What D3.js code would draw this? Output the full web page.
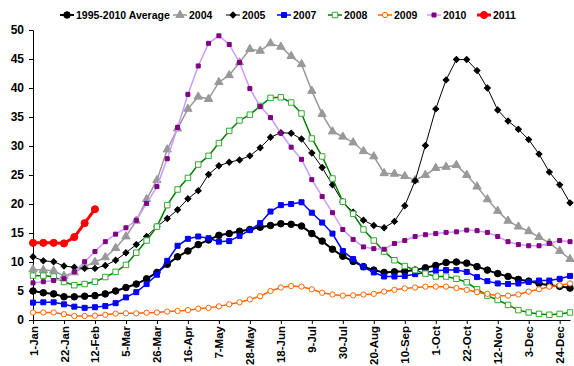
<!DOCTYPE html>
<html>
<head>
<meta charset="utf-8">
<script src="https://cdn.jsdelivr.net/npm/d3@7"></script>
<style>
  body { margin: 0; background: #fff; }
  text { font-family: "Liberation Sans", Arial, sans-serif; font-weight: bold; }
</style>
</head>
<body>
<svg id="chart" width="574" height="366"></svg>
<script>
// weekly values, week 0 = 1-Jan
var tickLabels = ["1-Jan", "22-Jan", "12-Feb", "5-Mar", "26-Mar", "16-Apr", "7-May", "28-May", "18-Jun",
  "9-Jul", "30-Jul", "20-Aug", "10-Sep", "1-Oct", "22-Oct", "12-Nov", "3-Dec", "24-Dec"];

var avg = [5.0, 4.7, 4.5, 4.0, 4.0, 4.1, 4.2, 4.5, 5.0, 5.6, 6.2, 7.1, 8.2, 9.6, 10.9, 11.9, 13.0,
  13.8, 14.6, 14.9, 15.3, 15.6, 16.0, 16.3, 16.6, 16.5, 16.2, 14.9, 13.6, 12.2, 11.0, 10.1, 9.2, 8.6,
  8.2, 8.3, 8.4, 8.6, 9.0, 9.4, 9.9, 10.0, 9.8, 9.2, 8.6, 8.0, 7.5, 7.0, 6.7, 6.3, 6.0, 5.8, 5.5];

var y2004 = [8.7, 8.6, 8.5, 7.6, 8.2, 9.2, 10.0, 10.8, 12.4, 14.4, 17.1, 20.8, 24.1, 29.4, 33.0, 36.4, 38.5,
  38.1, 41.0, 42.2, 44.4, 46.7, 46.4, 47.7, 47.1, 45.5, 44.1, 39.5, 35.5, 32.5, 31.6, 30.6, 29.1, 28.2,
  25.3, 25.2, 24.8, 24.1, 25.0, 26.2, 26.4, 26.7, 25.0, 23.0, 20.8, 18.8, 17.1, 16.1, 15.3, 14.3, 13.3, 11.9, 10.5];

var y2005 = [10.9, 10.2, 10.05, 9.3, 9.1, 8.9, 8.9, 9.4, 10.3, 11.6, 13.0, 14.4, 16.1, 17.5, 19.0, 20.9, 22.3,
  25.1, 26.6, 27.2, 27.6, 28.3, 29.7, 31.5, 32.3, 32.2, 31.2, 28.8, 26.3, 23.3, 20.4, 18.6, 17.2, 16.3,
  15.9, 17.0, 19.7, 24.0, 30.1, 36.4, 41.4, 44.9, 44.9, 43.0, 40.0, 36.2, 34.3, 32.9, 31.1, 28.6, 25.5, 23.3, 20.2];

var y2007 = [3.0, 3.05, 3.05, 2.7, 2.3, 2.1, 2.2, 2.4, 2.9, 3.9, 4.8, 6.2, 7.8, 10.2, 12.8, 14.0, 14.4,
  14.1, 13.5, 13.6, 14.5, 15.5, 16.7, 18.7, 19.8, 20.0, 20.3, 18.5, 16.8, 14.9, 11.9, 10.5, 9.1, 8.2,
  7.5, 7.5, 7.6, 7.9, 8.2, 8.5, 8.6, 8.6, 8.3, 7.4, 6.7, 6.3, 6.2, 6.3, 6.55, 6.8, 6.8, 7.1, 7.6];

var y2008 = [7.65, 7.65, 7.5, 6.55, 6.0, 6.2, 6.6, 7.4, 8.3, 9.5, 11.6, 13.7, 16.1, 19.8, 22.5, 24.5, 26.8,
  28.3, 30.5, 32.6, 34.4, 35.4, 36.9, 38.3, 38.4, 37.5, 35.6, 31.3, 28.2, 24.4, 20.4, 18.3, 15.6, 13.7,
  11.8, 10.3, 9.3, 8.6, 8.0, 7.5, 7.5, 7.1, 6.5, 5.3, 4.2, 3.45, 2.6, 1.7, 1.3, 1.05, 0.9, 1.05, 1.3];

var y2009 = [1.3, 1.3, 1.3, 1.0, 0.7, 0.7, 0.75, 0.9, 1.1, 1.15, 1.15, 1.25, 1.3, 1.45, 1.55, 1.7, 1.95,
  2.1, 2.35, 2.7, 3.05, 3.55, 4.1, 5.0, 5.6, 5.85, 5.75, 5.3, 4.7, 4.4, 4.2, 4.25, 4.4, 4.5,
  4.9, 5.2, 5.45, 5.6, 5.75, 5.75, 5.75, 5.5, 5.2, 4.8, 4.5, 4.2, 4.2, 4.4, 4.9, 5.3, 5.75, 6.0, 6.3];

var y2010 = [6.4, 6.6, 6.8, 7.1, 8.3, 10.05, 11.8, 13.5, 14.8, 15.9, 17.2, 20.1, 23.0, 27.8, 33.2, 38.9, 43.8,
  47.7, 49.0, 47.5, 44.4, 39.9, 36.8, 34.9, 32.2, 29.8, 27.7, 24.2, 21.3, 18.5, 15.6, 13.9, 12.6, 12.3,
  12.2, 13.2, 13.7, 14.4, 14.7, 14.9, 15.1, 15.2, 15.5, 15.4, 15.1, 14.4, 13.5, 13.0, 12.8, 12.8, 13.2, 13.7, 13.5];

var y2011 = [13.3, 13.3, 13.3, 13.2, 14.3, 16.7, 19.1];

var series = [
  { name: "1995-2010 Average", values: avg, line: "#000000", width: 2, symbol: d3.symbolCircle, size: 34, fill: "#000000", stroke: "#000000" },
  { name: "2004", values: y2004, line: "#999999", width: 1.5, symbol: d3.symbolTriangle, size: 30, fill: "#999999", stroke: "#999999" },
  { name: "2005", values: y2005, line: "#000000", width: 1, symbol: d3.symbolSquare, size: 18, rotate: 45, fill: "#000000", stroke: "#000000" },
  { name: "2007", values: y2007, line: "#0000ff", width: 1.5, symbol: d3.symbolSquare, size: 25, fill: "#0000ff", stroke: "#0000ff" },
  { name: "2008", values: y2008, line: "#008000", width: 1.5, symbol: d3.symbolSquare, size: 30, fill: "#ffffff", stroke: "#33aa33" },
  { name: "2009", values: y2009, line: "#ff6600", width: 1.5, symbol: d3.symbolCircle, size: 22, fill: "#ffffff", stroke: "#ff6600" },
  { name: "2010", values: y2010, line: "#cc99ff", width: 1.5, symbol: d3.symbolSquare, size: 16, fill: "#800080", stroke: "#800080" },
  { name: "2011", values: y2011, line: "#ff0000", width: 3, symbol: d3.symbolCircle, size: 40, fill: "#ff0000", stroke: "#ff0000" }
];

// where each legend entry starts
var legendX = [60, 173, 226, 277, 328, 378, 427, 477];

var svg = d3.select("#chart"),
  margin = { top: 30, right: 4, bottom: 46, left: 33 },
  width = +svg.attr("width"),
  height = +svg.attr("height");

var x = d3.scaleLinear().domain([0, 52]).range([margin.left, width - margin.right]);
var y = d3.scaleLinear().domain([0, 50]).range([height - margin.bottom, margin.top]);

// y axis
svg.append("g")
  .attr("transform", "translate(" + margin.left + ",0)")
  .call(d3.axisLeft(y).ticks(10).tickSize(4).tickPadding(5).tickSizeOuter(0))
  .call((g) => g.selectAll("text").style("font-size", "12px").attr("fill", "#000"))
  .call((g) => g.selectAll("line,path").attr("stroke", "#000"));

// x axis, a tick every 3 weeks
var tickWeeks = tickLabels.map((d, i) => i * 3);
svg.append("g")
  .attr("transform", "translate(0," + y(0) + ")")
  .call(d3.axisBottom(x).tickValues(tickWeeks).tickFormat((d, i) => tickLabels[i]).tickSize(4).tickSizeOuter(0))
  .call((g) => g.selectAll("line,path").attr("stroke", "#000"))
  .selectAll("text")
  .style("font-size", "11.5px")
  .attr("fill", "#000")
  .attr("transform", "rotate(-90)")
  .attr("text-anchor", "end")
  .attr("x", -6)
  .attr("y", 0)
  .attr("dy", "0.35em");

var line = d3.line()
  .x((d, i) => x(i))
  .y((d) => y(d));

function marker(sel, s) {
  return sel
    .attr("d", d3.symbol().type(s.symbol).size(s.size))
    .attr("fill", s.fill)
    .attr("stroke", s.stroke)
    .attr("stroke-width", 1);
}

series.forEach(function (s) {
  var g = svg.append("g").attr("class", "series");
  g.append("path")
    .datum(s.values)
    .attr("fill", "none")
    .attr("stroke", s.line)
    .attr("stroke-width", s.width)
    .attr("d", line);
  g.selectAll(".pt")
    .data(s.values)
    .enter()
    .append("path")
    .attr("class", "pt")
    .attr("transform", (d, i) => "translate(" + x(i) + "," + y(d) + ") rotate(" + (s.rotate || 0) + ")")
    .call(marker, s);
});

// legend along the top
var legend = svg.append("g").attr("transform", "translate(0,15)");
series.forEach(function (s, i) {
  var item = legend.append("g").attr("transform", "translate(" + legendX[i] + ",0)");
  item.append("line")
    .attr("x1", 0).attr("x2", 14)
    .attr("stroke", s.line)
    .attr("stroke-width", s.width);
  item.append("path")
    .attr("transform", "translate(7,0) rotate(" + (s.rotate || 0) + ")")
    .call(marker, s);
  item.append("text")
    .attr("x", 16)
    .attr("dy", "0.35em")
    .style("font-size", "10.5px")
    .text(s.name);
});
</script>
</body>
</html>
